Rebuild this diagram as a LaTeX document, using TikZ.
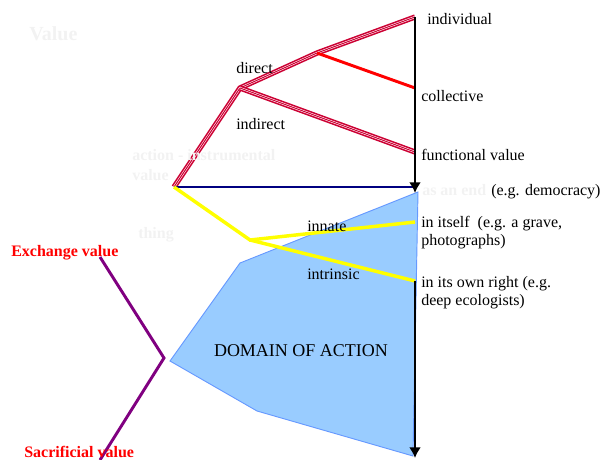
\documentclass[tikz,border=0pt]{standalone}
\usepackage{fontspec}
\setmainfont{Liberation Serif}
\usetikzlibrary{arrows.meta}
\begin{document}
\definecolor{vred}{RGB}{204,0,51}
\definecolor{brightred}{RGB}{255,0,0}
\definecolor{navy}{RGB}{0,0,128}
\definecolor{vyellow}{RGB}{255,255,0}
\definecolor{vpurple}{RGB}{128,0,128}
\definecolor{domainfill}{RGB}{153,204,255}
\definecolor{domainedge}{RGB}{102,153,255}
\definecolor{ghost}{RGB}{242,242,242}
\begin{tikzpicture}[x=0.75pt,y=-0.75pt,
  lbl/.style={anchor=base west,inner sep=0pt,font=\fontsize{12}{14}\selectfont},
  ghostlbl/.style={lbl,text=ghost,font=\fontsize{12}{14}\selectfont\bfseries},
  redlbl/.style={lbl,text=brightred,font=\fontsize{12}{14}\selectfont\bfseries},
  triple/.style={draw=white,line width=1.6pt,line join=miter,
    preaction={draw=vred,line width=4pt},
    postaction={draw=vred,line width=0.75pt}},
  thickline/.style={line width=2.2pt},
  arrowline/.style={draw=black,line width=2.2pt,-{Latex[length=8pt,width=9pt]}}]
\useasboundingbox (0,0) rectangle (600,460);

% key points
\coordinate (act) at (174,187);
\coordinate (dir) at (240,88);
\coordinate (mid) at (317,53);
\coordinate (ind) at (415,17);
\coordinate (col) at (415,88);
\coordinate (fun) at (415,152);
\coordinate (end) at (415,193);
\coordinate (nav) at (413,187);
\coordinate (thg) at (250,240);
\coordinate (inn) at (415,222);
\coordinate (own) at (415,281);
\coordinate (bot) at (415,458);
\coordinate (ex) at (100,257);
\coordinate (vx) at (164,358);
\coordinate (sa) at (100,460);

% domain of action
\draw[fill=domainfill,draw=domainedge,line width=0.7pt]
  (418,192) -- (240,263) -- (170,361) -- (257,411) -- (413,456) -- cycle;
\node[anchor=base,inner sep=0pt,font=\fontsize{13.5}{16}\selectfont] (dom) at (301,356) {DOMAIN OF ACTION};

% value branches
\draw[triple] (act) -- (dir) -- (mid) -- (ind);
\draw[triple] (dir) -- (fun);
\draw[draw=brightred,thickline] (mid) -- (col);
\draw[draw=navy,line width=2.2pt] (act) -- (nav);
\draw[draw=vyellow,line width=2.6pt,line join=miter] (act) -- (thg) -- (inn);
\draw[draw=vyellow,line width=2.6pt] (thg) -- (own);
\draw[draw=vpurple,line width=2.2pt,line join=miter] (ex) -- (vx) -- (sa);

% vertical arrows
\draw[arrowline] (ind) -- (end);
\draw[arrowline] (own) -- (bot);

% labels
\node[lbl,text=ghost,font=\fontsize{15}{18}\selectfont\bfseries] (tval) at (29,41) {Value};
\node[lbl] (tdir) at (236,74) {direct};
\node[lbl] (tind) at (236,129) {indirect};
\node[ghostlbl] (tact) at (132,160) {action - instrumental};
\node[ghostlbl] (tactv) at (132,180) {value};
\node[ghostlbl] (tthg) at (138,238) {thing};
\node[lbl] (tindiv) at (427,25) {individual};
\node[lbl] (tcol) at (421,102) {collective};
\node[lbl] (tfun) at (421,160) {functional value};
\node[ghostlbl] (tend) at (422,195) {as an end};
\node[lbl] (tdem) at (491,195) {(e.g. democracy)};
\node[lbl] (tits) at (421,227) {in itself\ \ (e.g. a grave,};
\node[lbl] (tphot) at (421,245) {photographs)};
\node[lbl] (town) at (421,287) {in its own right (e.g.};
\node[lbl] (tdeep) at (421,305) {deep ecologists)};
\node[lbl] (tinn) at (307,231) {innate};
\node[lbl] (tint) at (307,279) {intrinsic};
\node[redlbl] (tex) at (11,256) {Exchange value};
\node[redlbl] (tsac) at (24,457) {Sacrificial value};
\end{tikzpicture}
\end{document}
